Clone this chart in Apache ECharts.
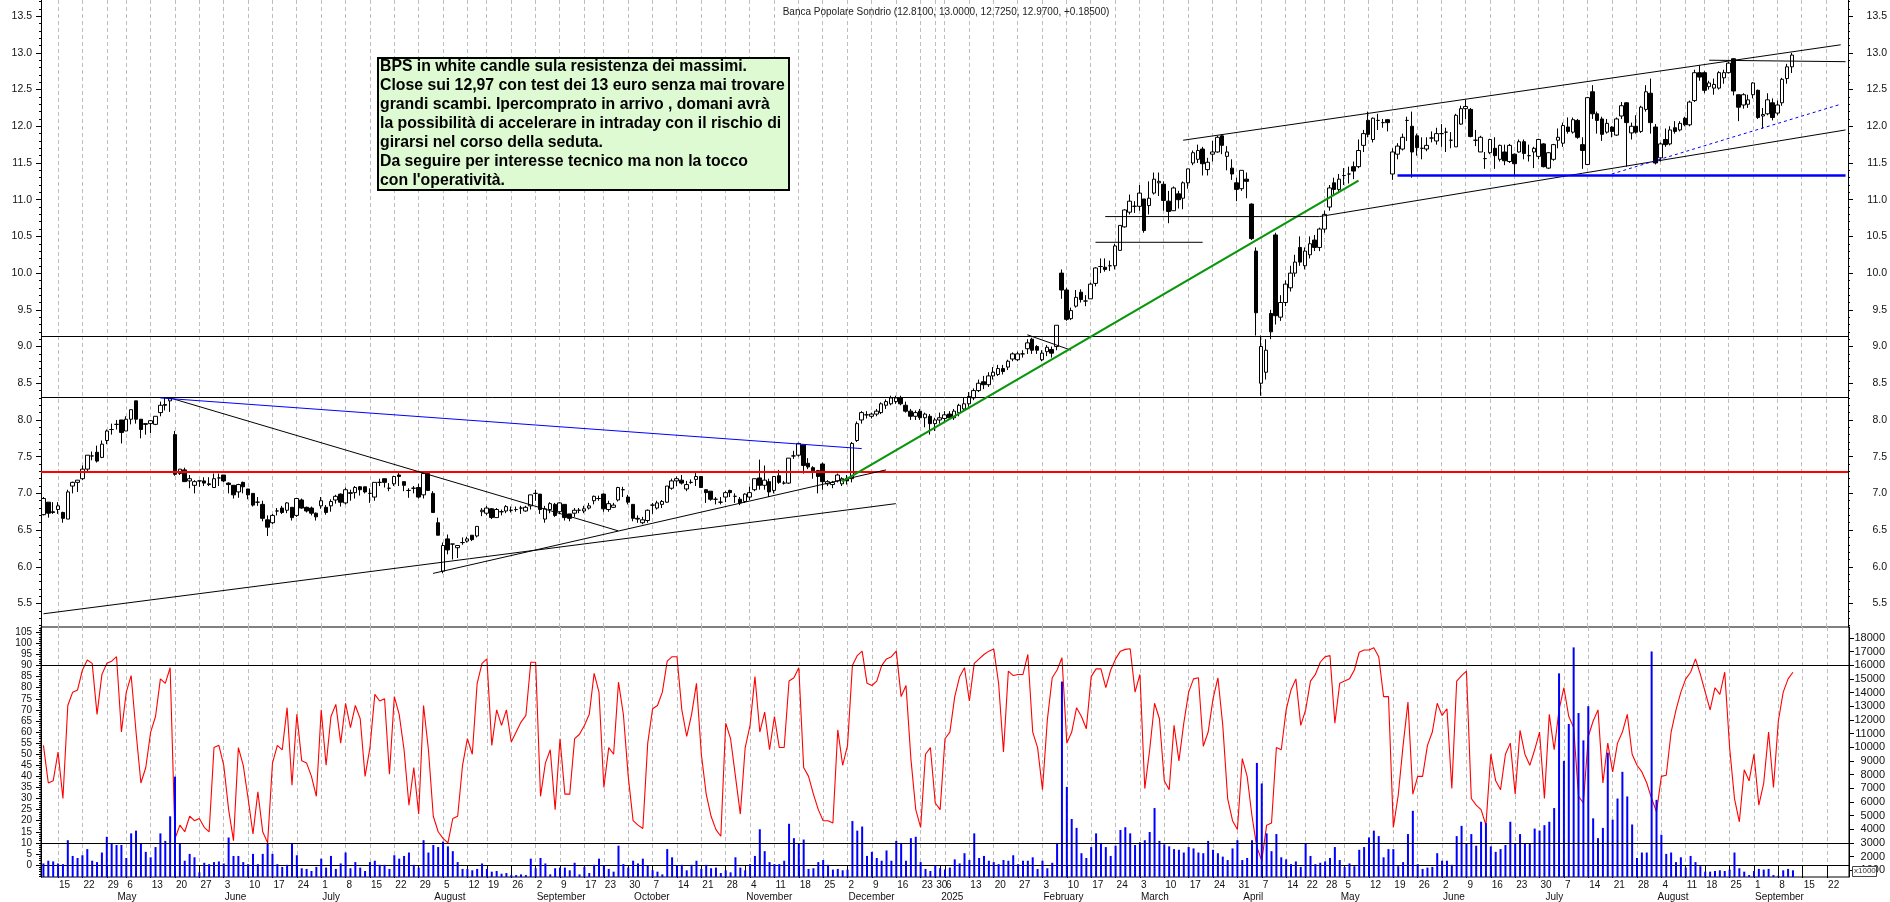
<!DOCTYPE html>
<html>
<head>
<meta charset="utf-8">
<title>Banca Popolare Sondrio</title>
<script src="https://cdn.jsdelivr.net/npm/echarts@6/dist/echarts.min.js"></script>
<style>
  html, body { margin: 0; padding: 0; background: #fff; }
  #chart { width: 1890px; height: 902px; }
</style>
</head>
<body>
<div id="chart"></div>
<script>
// Open, close, low, high of every session
var ohlc = [
  [6.71,6.93,6.70,6.95],[6.88,6.73,6.67,6.88],[6.75,6.74,6.72,6.88],[6.78,6.83,6.72,6.88],[6.74,6.66,6.60,6.75],
  [6.65,7.02,6.65,7.05],[7.10,7.15,7.00,7.16],[7.15,7.18,7.02,7.18],[7.20,7.33,7.18,7.38],[7.33,7.52,7.30,7.52],
  [7.51,7.51,7.45,7.57],[7.56,7.44,7.42,7.65],[7.49,7.67,7.48,7.72],[7.72,7.85,7.67,7.87],[7.87,7.87,7.80,7.95],
  [7.94,7.94,7.87,8.00],[8.00,7.83,7.68,8.00],[7.85,8.01,7.85,8.05],[8.01,8.14,7.94,8.14],[8.26,8.01,7.95,8.26],
  [8.01,7.87,7.75,8.01],[7.95,7.94,7.80,7.95],[7.95,7.99,7.82,8.00],[7.94,8.05,7.93,8.05],[8.10,8.20,8.05,8.25],
  [8.21,8.20,8.13,8.30],[8.26,8.29,8.11,8.31],[7.80,7.26,7.24,7.85],[7.27,7.33,7.25,7.33],[7.32,7.16,7.16,7.35],
  [7.17,7.20,7.07,7.25],[7.11,7.16,7.00,7.18],[7.17,7.17,7.09,7.17],[7.17,7.14,7.10,7.22],[7.13,7.12,7.10,7.22],
  [7.08,7.20,7.08,7.27],[7.21,7.21,7.10,7.27],[7.25,7.17,7.15,7.25],[7.14,7.12,7.00,7.15],[7.11,6.98,6.93,7.11],
  [7.02,7.12,6.94,7.13],[7.15,7.09,7.00,7.16],[7.06,6.98,6.92,7.06],[7.00,6.84,6.82,7.00],[6.88,6.88,6.83,6.95],
  [6.85,6.66,6.62,6.90],[6.64,6.54,6.42,6.70],[6.60,6.70,6.58,6.72],[6.76,6.76,6.70,6.80],[6.80,6.74,6.72,6.83],
  [6.77,6.87,6.73,6.88],[6.81,6.67,6.63,6.81],[6.70,6.93,6.68,6.93],[6.91,6.80,6.79,6.93],[6.81,6.76,6.74,6.82],
  [6.80,6.73,6.70,6.82],[6.73,6.68,6.63,6.74],[6.83,6.90,6.79,6.95],[6.81,6.74,6.71,6.84],[6.83,6.89,6.75,6.92],
  [6.91,6.96,6.86,6.98],[6.99,6.88,6.82,7.00],[6.87,7.05,6.85,7.08],[7.00,7.01,6.90,7.05],[7.01,7.08,6.93,7.10],
  [7.09,7.05,6.97,7.10],[7.09,7.02,7.00,7.09],[7.00,7.00,6.87,7.07],[6.95,7.15,6.90,7.15],[7.15,7.15,7.10,7.20],
  [7.20,7.15,7.08,7.20],[7.07,7.07,7.03,7.14],[7.13,7.23,7.10,7.24],[7.25,7.23,7.10,7.28],[7.16,7.11,7.03,7.16],
  [7.04,7.04,6.94,7.07],[7.07,7.07,7.00,7.10],[7.08,6.95,6.93,7.13],[6.98,7.27,6.93,7.28],[7.27,7.04,7.04,7.30],
  [7.00,6.74,6.74,7.03],[6.60,6.43,6.43,6.67],[5.94,6.29,5.91,6.33],[6.38,6.23,6.17,6.44],[6.31,6.31,6.10,6.31],
  [6.26,6.29,6.12,6.29],[6.33,6.33,6.30,6.40],[6.35,6.38,6.33,6.41],[6.43,6.37,6.35,6.43],[6.42,6.55,6.40,6.55],
  [6.75,6.77,6.69,6.80],[6.73,6.80,6.70,6.83],[6.79,6.67,6.65,6.80],[6.67,6.78,6.67,6.80],[6.75,6.75,6.70,6.78],
  [6.76,6.82,6.73,6.84],[6.77,6.77,6.74,6.82],[6.78,6.78,6.75,6.82],[6.80,6.80,6.72,6.83],[6.76,6.81,6.75,6.83],
  [6.83,6.98,6.78,6.98],[7.00,7.00,6.90,7.05],[6.99,6.78,6.72,6.99],[6.65,6.79,6.60,6.83],[6.78,6.86,6.73,6.88],
  [6.85,6.70,6.68,6.87],[6.75,6.87,6.72,6.88],[6.85,6.67,6.63,6.85],[6.72,6.66,6.62,6.72],[6.73,6.77,6.68,6.80],
  [6.77,6.77,6.73,6.80],[6.76,6.79,6.73,6.83],[6.80,6.83,6.78,6.87],[6.90,6.96,6.85,6.97],[6.93,6.93,6.90,6.97],
  [6.99,6.79,6.75,7.00],[6.78,6.86,6.75,6.90],[6.81,6.84,6.80,6.87],[6.91,7.08,6.89,7.09],[7.05,7.05,6.95,7.09],
  [6.95,6.88,6.85,6.98],[6.85,6.66,6.62,6.85],[6.66,6.65,6.60,6.70],[6.60,6.64,6.58,6.68],[6.63,6.77,6.60,6.78],
  [6.84,6.84,6.72,6.87],[6.80,6.87,6.78,6.90],[6.85,6.89,6.80,6.91],[6.88,7.10,6.87,7.10],[7.07,7.17,7.05,7.20],
  [7.17,7.20,7.10,7.23],[7.18,7.14,7.12,7.25],[7.06,7.12,7.03,7.17],[7.15,7.15,7.13,7.19],[7.19,7.23,7.10,7.29],
  [7.23,7.08,7.08,7.23],[7.05,7.01,6.87,7.05],[7.03,6.92,6.90,7.03],[6.92,6.92,6.85,6.95],[6.88,6.88,6.85,6.95],
  [6.95,7.01,6.88,7.03],[7.04,7.01,6.95,7.05],[6.96,6.96,6.87,7.00],[6.92,6.87,6.84,6.95],[6.89,6.99,6.87,7.00],
  [6.95,7.01,6.91,7.09],[7.05,7.20,7.03,7.20],[7.21,7.11,7.05,7.46],[7.11,7.18,7.05,7.38],[7.16,7.02,6.95,7.20],
  [7.04,7.23,7.00,7.23],[7.24,7.15,7.13,7.32],[7.14,7.14,7.12,7.17],[7.14,7.48,7.13,7.48],[7.51,7.51,7.47,7.58],
  [7.52,7.68,7.50,7.69],[7.66,7.38,7.27,7.66],[7.41,7.36,7.33,7.48],[7.35,7.30,7.20,7.37],[7.31,7.23,7.00,7.32],
  [7.40,7.16,7.05,7.42],[7.13,7.16,7.10,7.18],[7.12,7.15,7.07,7.17],[7.17,7.25,7.15,7.27],[7.13,7.20,7.10,7.22],
  [7.20,7.17,7.12,7.25],[7.20,7.68,7.15,7.70],[7.72,7.95,7.70,7.98],[8.00,8.10,7.95,8.12],[8.07,8.07,8.02,8.12],
  [8.05,8.08,8.02,8.10],[8.08,8.12,8.05,8.15],[8.10,8.22,8.08,8.24],[8.20,8.25,8.15,8.28],[8.22,8.30,8.20,8.33],
  [8.25,8.30,8.22,8.33],[8.30,8.22,8.20,8.33],[8.20,8.12,8.10,8.25],[8.12,8.05,8.00,8.15],[8.05,8.10,8.00,8.13],
  [8.12,8.03,8.00,8.15],[8.03,8.08,7.90,8.10],[8.05,7.95,7.80,8.08],[7.95,8.00,7.85,8.03],[8.00,8.03,7.95,8.10],
  [8.02,8.07,7.98,8.12],[8.08,8.03,8.00,8.12],[8.03,8.12,8.00,8.15],[8.10,8.20,8.05,8.22],[8.15,8.22,8.12,8.30],
  [8.22,8.32,8.18,8.38],[8.30,8.40,8.27,8.43],[8.40,8.50,8.38,8.55],[8.52,8.48,8.42,8.60],[8.48,8.60,8.45,8.65],
  [8.60,8.65,8.55,8.72],[8.62,8.70,8.60,8.75],[8.70,8.66,8.62,8.75],[8.72,8.80,8.68,8.82],[8.83,8.90,8.80,8.92],
  [8.82,8.90,8.80,8.93],[8.90,8.90,8.85,8.95],[8.97,9.05,8.90,9.10],[9.10,8.95,8.90,9.12],[9.00,8.95,8.90,9.02],
  [8.82,8.91,8.80,8.95],[8.93,8.99,8.87,9.02],[8.96,8.91,8.85,9.00],[9.00,9.29,8.95,9.29],[10.00,9.77,9.65,10.05],
  [9.77,9.37,9.35,9.80],[9.38,9.49,9.36,9.53],[9.55,9.67,9.53,9.77],[9.74,9.64,9.60,9.78],[9.62,9.62,9.55,9.70],
  [9.65,9.85,9.65,9.87],[9.86,10.07,9.82,10.08],[10.09,10.09,10.00,10.20],[10.08,10.05,10.02,10.20],[10.10,10.10,10.03,10.17],
  [10.10,10.37,10.05,10.40],[10.31,10.65,10.31,10.65],[10.63,10.86,10.62,10.87],[10.83,10.98,10.80,11.07],[10.91,10.91,10.82,10.98],
  [10.91,11.09,10.85,11.20],[11.01,10.58,10.55,11.01],[10.92,11.02,10.80,11.25],[11.09,11.28,11.07,11.37],[11.23,11.25,11.05,11.37],
  [11.21,10.99,10.85,11.25],[10.98,10.84,10.68,11.12],[10.85,11.16,10.85,11.18],[11.08,11.00,10.88,11.12],[11.02,11.23,10.87,11.25],
  [11.23,11.42,11.15,11.42],[11.50,11.64,11.47,11.67],[11.55,11.67,11.50,11.75],[11.69,11.49,11.33,11.72],[11.41,11.51,11.33,11.57],
  [11.62,11.65,11.52,11.80],[11.65,11.85,11.64,11.87],[11.87,11.74,11.62,11.89],[11.59,11.65,11.40,11.73],[11.43,11.35,11.27,11.55],
  [11.23,11.14,10.98,11.30],[11.15,11.40,11.12,11.40],[11.28,11.25,11.02,11.37],[10.94,10.47,10.45,10.95],[10.30,9.46,9.15,10.35],
  [8.50,9.00,8.33,9.15],[8.65,8.95,8.55,9.10],[9.45,9.20,9.10,9.50],[10.52,9.42,9.30,10.55],[9.40,9.60,9.35,9.70],
  [9.60,9.85,9.55,9.90],[9.80,10.00,9.75,10.10],[10.00,10.15,9.95,10.25],[10.35,10.15,10.10,10.50],[10.10,10.30,10.05,10.35],
  [10.25,10.40,10.20,10.50],[10.45,10.35,10.30,10.52],[10.35,10.60,10.30,10.62],[10.60,10.80,10.55,10.85],[10.90,11.16,10.85,11.20],
  [11.23,11.14,11.05,11.30],[11.14,11.28,11.10,11.35],[11.33,11.33,11.20,11.43],[11.35,11.35,11.22,11.45],[11.45,11.39,11.28,11.52],
  [11.45,11.67,11.43,11.82],[11.74,11.90,11.65,11.95],[12.08,11.89,11.85,12.20],[11.82,12.11,11.78,12.12],[12.08,12.08,11.95,12.17],
  [12.05,12.05,11.98,12.10],[12.09,12.05,11.93,12.10],[11.35,11.65,11.27,11.70],[11.62,11.73,11.55,11.77],[11.69,11.85,11.67,11.90],
  [12.08,12.08,11.80,12.13],[12.00,11.65,11.30,12.20],[11.87,11.71,11.60,11.90],[11.70,11.70,11.55,11.85],[11.69,11.74,11.66,11.85],
  [11.84,11.84,11.78,11.93],[11.80,11.90,11.75,11.98],[11.90,11.90,11.72,12.03],[11.92,11.92,11.65,11.98],[11.81,11.81,11.70,11.92],
  [11.72,12.15,11.72,12.17],[12.03,12.24,12.02,12.28],[12.24,12.27,12.10,12.36],[12.23,11.86,11.85,12.25],[11.81,11.81,11.73,11.95],
  [11.65,11.85,11.65,11.87],[11.56,11.56,11.42,11.65],[11.64,11.82,11.62,11.83],[11.70,11.60,11.42,11.85],[11.55,11.74,11.52,11.75],
  [11.65,11.53,11.47,11.75],[11.52,11.74,11.50,11.76],[11.62,11.49,11.32,11.63],[11.65,11.79,11.64,11.82],[11.79,11.63,11.55,11.82],
  [11.60,11.60,11.52,11.75],[11.65,11.70,11.43,11.72],[11.59,11.82,11.55,11.83],[11.76,11.45,11.44,11.77],[11.43,11.64,11.42,11.65],
  [11.55,11.75,11.53,11.76],[11.81,11.85,11.70,11.97],[11.77,12.01,11.72,12.05],[11.99,11.93,11.90,12.12],[11.92,12.09,11.90,12.12],
  [12.08,11.85,11.83,12.10],[11.75,11.67,11.42,11.85],[11.48,12.39,11.47,12.40],[12.47,12.17,12.10,12.56],[12.17,12.08,11.90,12.20],
  [12.10,11.89,11.80,12.13],[11.92,12.04,11.90,12.10],[11.99,11.93,11.85,12.00],[11.88,12.10,11.87,12.12],[12.14,12.28,12.10,12.33],
  [12.32,12.05,11.45,12.33],[11.91,12.00,11.82,12.05],[12.00,11.92,11.90,12.15],[11.93,12.26,11.91,12.28],[12.23,12.47,12.20,12.56],
  [12.45,12.05,11.90,12.65],[11.99,11.50,11.48,12.03],[11.57,11.76,11.52,11.78],[11.82,11.75,11.72,11.97],[11.76,11.95,11.74,12.00],
  [11.98,11.93,11.90,12.07],[11.95,12.04,11.93,12.07],[12.11,12.02,12.00,12.13],[12.02,12.33,12.00,12.35],[12.35,12.73,12.33,12.77],
  [12.73,12.67,12.62,12.83],[12.73,12.49,12.45,12.75],[12.54,12.59,12.50,12.62],[12.52,12.57,12.43,12.65],[12.52,12.73,12.50,12.75],
  [12.66,12.73,12.58,12.77],[12.73,12.86,12.72,12.88],[12.92,12.48,12.42,12.93],[12.43,12.26,12.07,12.43],[12.29,12.43,12.24,12.45],
  [12.30,12.36,12.25,12.43],[12.43,12.59,12.38,12.60],[12.49,12.12,12.10,12.50],[12.14,12.16,11.97,12.25],[12.17,12.36,12.15,12.45],
  [12.32,12.12,12.08,12.38],[12.18,12.29,12.15,12.35],[12.32,12.64,12.28,12.66],[12.65,12.81,12.58,12.85],[12.81,12.97,12.725,13.00]
];

var oscillator = [
  54,37,38,51,30,72,78,79,88,92.5, 91,68,86,91,92,94,60,78,85.5,60,
  37,44,60,67,84,82,89,12,18,15, 22,20,21,17,15,53,54,45,25,11,
  53,45,30,14,33,15,10,46,54,52, 71,36,68,47,46,40,31,70,45,67,
  72.5,55,73,62,72,66,40,53,77,74, 75,41,76,68,52,27,44,23,72,52,
  22,15,12,10,21,22,45,57,50,82, 91,93,54,70,63,70,55.5,60,64.5,67.5,
  91.5,91.5,31,46,52,25,57,32,32,57, 59,63,68,86.5,78,35,53,50,82.5,68,
  40,20,18,16.5,55,70.5,72,78,92,94, 94,70,58,68,82,50,32,22,16,13,
  64,57,40,23,53,63,85,60,69,52, 67,53,53,83,84.5,89,44,40,32,25,
  20,20,19,61,45,54,90,94.5,96.5,82, 81,83,90,93,94,96.5,76,81,48,25,
  17,50,53,28,25,57,60,76,85,89, 74,91,93,95,96.5,97.5,82,51,87.5,85.5,
  86,86,95,60,53,34,65.5,84.5,88,93.5, 55,60,71,67,61.5,85,88.5,88.5,80,88,
  93,96.5,97.3,97.6,78,86,34.5,52,73,66, 38,34,63,47,64,78,84,84.5,53.6,60,
  75,84.5,63,30,20,16,48,40,22,8, 2,18,19,53,52,70,79,84,63,70,
  83,86,91.5,94,94.5,64,82,83,84,88, 96,97,97,98,94,76,76,17,31.5,54,
  73.5,32,40,40,54,60,73,67.5,70.5,34.5, 83,85.5,87.5,30,27,25,18,50,38,34,
  50,55,32,60.8,50,45,52,60,30,68, 52,70,80,67,62,31,28,58,65,70,
  37,55,42,55,60,68,50,45,42,37, 30,24,40,40.5,60,70,78,84,87,93,
  86,78,70,80,77,87,53,30,19.5,43, 38,50,27,37,60,35,65,78,84,87
];

// Volume in thousands of shares
var volume = [
  1.5,1.7,1.65,1.5,1.45,3.2,2.05,1.9,2.1,2.55, 1.7,1.6,2.3,3.45,3.0,2.85,2.85,1.9,3.7,3.9,
  2.95,2.35,1.95,2.7,3.7,3.15,4.95,7.85,3.0,1.7, 2.2,1.95,.85,1.55,1.45,1.6,1.65,1.5,3.4,2.05,
  2.05,1.6,1.45,2.2,1.45,2.2,3.0,2.2,1.45,1.25, 1.4,3.0,2.1,1.15,1.1,.95,1.25,1.85,1.2,2.05,
  1.1,1.5,2.3,1.15,1.6,1.2,.95,1.6,1.7,1.4, 1.4,1.1,2.1,1.85,2.05,2.3,1.4,1.2,3.2,2.3,
  2.85,2.7,3.1,2.75,2.4,1.6,1.1,1.1,1.0,1.1, 1.5,1.1,.9,.95,.75,.8,.65,.65,.7,.65,
  1.85,1.15,1.9,1.5,.7,1.15,1.2,1.2,1.0,1.55, .7,1.25,.8,1.4,1.85,1.35,1.1,.9,2.8,1.45,
  1.2,1.7,1.5,1.85,1.35,1.0,.9,.7,2.55,1.95, 1.35,1.4,1.0,1.4,1.7,1.1,1.4,1.15,1.2,.8,
  1.0,.85,1.95,1.2,1.0,1.45,2.05,4.0,2.4,1.6, 1.45,1.45,1.7,4.4,3.35,2.95,3.25,1.1,1.15,1.6,
  1.75,1.4,1.05,1.1,1.0,1.05,4.6,3.9,4.2,2.05, 2.35,1.9,1.7,2.45,1.7,3.15,3.0,1.7,3.35,3.45,
  1.6,1.1,.95,1.35,1.15,1.05,1.2,1.8,1.5,2.25, 1.75,3.7,1.9,2.05,1.7,1.6,1.45,1.75,1.7,2.1,
  1.45,1.7,1.7,1.95,1.1,1.7,1.15,1.55,3.0,14.8, 7.1,4.75,4.1,2.25,1.9,2.7,3.7,3.0,2.7,2.05,
  2.8,3.95,4.15,3.7,2.85,3.05,3.2,3.8,5.55,3.15, 2.9,2.75,2.55,2.5,2.3,2.7,2.6,2.3,2.25,3.15,
  2.5,2.25,2.0,1.75,2.6,3.2,1.75,1.9,3.2,8.85, 7.35,3.7,2.4,3.65,1.95,1.8,1.45,1.65,1.25,3.0,
  2.05,1.45,1.55,1.65,1.9,2.7,1.75,1.25,1.5,1.3, 2.5,2.7,3.4,3.9,3.5,1.95,2.55,2.55,1.3,1.6,
  3.65,5.35,1.45,1.1,1.2,1.25,2.25,1.7,1.7,1.4, 3.5,4.25,2.95,3.65,2.8,4.55,4.45,2.75,2.35,2.55,
  2.85,4.55,3.0,3.65,2.95,2.95,4.05,3.9,4.3,4.55, 5.55,15.4,9.0,11.7,17.3,12.5,10.5,13,4.8,3.35,
  4.1,9.6,4.7,6.25,8.2,6.4,4.35,1.9,2.3,2.3, 17,6.15,3.6,2.2,2.3,1.6,1.95,1.2,2.05,1.6,
  1.3,.9,.9,.95,1.0,.95,1.05,2.3,1.15,.9, .65,.95,1.1,1.05,1.1,.65,.6,1.0,1.1,1.0
];

var priceTicks = [5.5,6,6.5,7,7.5,8,8.5,9,9.5,10,10.5,11,11.5,12,12.5,13,13.5];
var oscTicks = [0,5,10,15,20,25,30,35,40,45,50,55,60,65,70,75,80,85,90,95,100,105];
var volumeTicks = [1,2,3,4,5,6,7,8,9,10,11,12,13,14,15,16,17,18];
var monthNames = ["", "February", "March", "April", "May", "June", "July", "August", "September", "October", "November", "December"];
var closedDays = ["2024-05-01","2024-08-15","2024-09-16","2024-12-25","2024-12-26","2024-12-31",
                  "2025-01-01","2025-01-02","2025-04-18","2025-04-21","2025-05-01","2025-08-15"];

// Horizontal levels span the whole pane
var priceLevels = [
  {value: 9.14, color: "#000", width: 1},
  {value: 8.31, color: "#000", width: 1},
  {value: 7.29, color: "#f00", width: 2}
];
var oscLevels = [90, 10];

// Drawn lines: bar index and price at both ends
var trendLines = [
  {from: [0, 5.36],    to: [175, 6.86],  color: "#000", width: 1},
  {from: [80, 5.91],   to: [173, 7.32],  color: "#000", width: 1},
  {from: [26, 8.30],   to: [118, 6.49],  color: "#000", width: 1},
  {from: [24, 8.30],   to: [168, 7.61],  color: "#00f", width: 1},
  {from: [202, 9.16],  to: [211, 8.95],  color: "#000", width: 1},
  {from: [164, 7.16],  to: [270, 11.26], color: "#0a960a", width: 2.2},
  {from: [218, 10.77], to: [262, 10.77], color: "#000", width: 1},
  {from: [216, 10.42], to: [238, 10.42], color: "#000", width: 1},
  {from: [234, 11.81], to: [369, 13.11], color: "#000", width: 1},
  {from: [262, 10.77], to: [370, 11.95], color: "#000", width: 1},
  {from: [322, 11.35], to: [369, 12.30], color: "#00f", width: 1, dash: [3, 3]},
  {from: [342, 12.90], to: [370, 12.88], color: "#000", width: 1},
  {from: [278, 11.33], to: [370, 11.33], color: "#00f", width: 2.4}
];

var noteLines = [
  "BPS in white candle sula resistenza dei massimi.",
  "Close sui 12,97 con test dei 13 euro senza mai trovare",
  "grandi scambi. Ipercomprato in arrivo , domani avrà",
  "la possibilità di accelerare in intraday con il rischio di",
  "girarsi nel corso della seduta.",
  "Da seguire per interesse tecnico ma non la tocco",
  "con l'operatività."
];
var heading = "Banca Popolare Sondrio (12.8100, 13.0000, 12.7250, 12.9700, +0.18500)";

var LABEL_FONT = "Liberation Sans";
var SLOTS = 371;

// Trading calendar, runs on past the last bar up to the end of the axis
function buildCalendar() {
    var days = [];
    var d = new Date(Date.UTC(2024, 3, 10));
    while (days.length < SLOTS) {
        var iso = d.toISOString().slice(0, 10);
        var wd = d.getUTCDay();
        if (wd !== 0 && wd !== 6 && closedDays.indexOf(iso) === -1) {
            days.push(iso);
        }
        d.setUTCDate(d.getUTCDate() + 1);
    }
    return days;
}

var categories = buildCalendar();

function weekday(iso) {
    return new Date(iso + "T00:00:00Z").getUTCDay();
}

function isWeekStart(index) {
    return index > 0 && weekday(categories[index]) < weekday(categories[index - 1]);
}

function isMonthStart(index) {
    return index > 0 && categories[index].slice(5, 7) !== categories[index - 1].slice(5, 7);
}

function monthLabel(iso) {
    var month = parseInt(iso.slice(5, 7), 10);
    return month === 1 ? iso.slice(0, 4) : monthNames[month - 1];
}

function stepTicks(from, to, step) {
    var out = [];
    for (var v = from; v <= to + 1e-6; v += step) {
        out.push(Math.round(v * 10) / 10);
    }
    return out;
}

var gridSplit = {
    show: true,
    alignWithLabel: true,
    interval: isWeekStart,
    lineStyle: {color: "#bdbdbd", type: [4, 3], width: 1}
};

// A value axis that only carries ticks (and optionally labels)
function scaleAxis(grid, side, min, max, ticks, tickLength, labels) {
    return {
        type: "value",
        gridIndex: grid,
        position: side,
        min: min,
        max: max,
        splitLine: {show: false},
        axisLine: {show: true, onZero: false, lineStyle: {color: "#000", width: 1}},
        axisTick: {show: true, length: tickLength, customValues: ticks, lineStyle: {color: "#000", width: 1}},
        axisLabel: labels || {show: false}
    };
}

function tickLabels(values, align, margin, size, fmt) {
    return {
        show: true,
        customValues: values,
        align: align,
        margin: margin,
        color: "#111",
        fontFamily: LABEL_FONT,
        fontSize: size,
        formatter: fmt
    };
}

function priceFmt(v) { return v.toFixed(1); }
function plainFmt(v) { return String(v); }
function volumeFmt(v) { return String(Math.round(v * 1000)); }

var PRICE_MIN = 5.18, PRICE_MAX = 13.72;
var OSC_MIN = -5.4, OSC_MAX = 107.4;
var VOL_MIN = 0.51, VOL_MAX = 18.79;

var series = [
    {
        type: "candlestick",
        name: "price",
        xAxisIndex: 0,
        yAxisIndex: 0,
        data: ohlc,
        barWidth: 4,
        silent: true,
        z: 3,
        itemStyle: {
            color: "#fff", color0: "#000",
            borderColor: "#000", borderColor0: "#000", borderColorDoji: "#000",
            borderWidth: 1
        }
    },
    {
        type: "line",
        name: "levels",
        xAxisIndex: 0,
        yAxisIndex: 0,
        data: [],
        silent: true,
        z: 4,
        markLine: {
            silent: true,
            symbol: "none",
            animation: false,
            label: {show: false},
            data: priceLevels.map(function (level) {
                return {yAxis: level.value, lineStyle: {color: level.color, width: level.width, type: "solid"}};
            })
        }
    },
    {
        type: "line",
        name: "oscillator",
        xAxisIndex: 1,
        yAxisIndex: 4,
        data: oscillator,
        showSymbol: false,
        silent: true,
        z: 3,
        lineStyle: {color: "#f00", width: 1.1},
        markLine: {
            silent: true,
            symbol: "none",
            animation: false,
            label: {show: false},
            data: oscLevels.map(function (level) {
                return {yAxis: level, lineStyle: {color: "#000", width: 1.2, type: "solid"}};
            })
        }
    },
    {
        type: "bar",
        name: "volume",
        xAxisIndex: 1,
        yAxisIndex: 6,
        data: volume,
        barWidth: 2,
        silent: true,
        z: 4,
        itemStyle: {color: "#00f"}
    }
];

trendLines.forEach(function (trend, i) {
    series.push({
        type: "line",
        name: "trend" + i,
        xAxisIndex: 0,
        yAxisIndex: 0,
        data: [trend.from, trend.to],
        showSymbol: false,
        silent: true,
        z: 5,
        lineStyle: {color: trend.color, width: trend.width, type: trend.dash || "solid"}
    });
});

var chart = echarts.init(document.getElementById("chart"), null, {renderer: "canvas"});

chart.setOption({
    animation: false,
    backgroundColor: "#fff",
    title: {
        text: heading,
        left: 941,
        top: 2,
        textAlign: "center",
        textStyle: {fontFamily: LABEL_FONT, fontSize: 10, fontWeight: "normal", color: "#222"}
    },
    grid: [
        {left: 41, top: 0, width: 1808, height: 627},
        {left: 41, top: 627, width: 1808, height: 250, show: true, borderColor: "#000", borderWidth: 1, backgroundColor: "transparent"}
    ],
    xAxis: [
        {
            type: "category",
            gridIndex: 0,
            data: categories,
            axisLine: {show: false},
            axisTick: {show: false},
            axisLabel: {show: false},
            splitLine: gridSplit
        },
        {
            type: "category",
            gridIndex: 1,
            data: categories,
            position: "bottom",
            axisLine: {show: true, lineStyle: {color: "#000", width: 1}},
            axisTick: {show: true, alignWithLabel: true, interval: isWeekStart, length: 13, lineStyle: {color: "#000"}},
            axisLabel: {
                show: true,
                interval: isWeekStart,
                margin: 3,
                align: "left",
                padding: [0, 0, 0, 1],
                color: "#111",
                fontFamily: LABEL_FONT,
                fontSize: 10,
                formatter: function (value) { return String(parseInt(value.slice(8), 10)); }
            },
            splitLine: gridSplit
        },
        {
            type: "category",
            gridIndex: 1,
            data: categories,
            position: "bottom",
            offset: 13,
            axisLine: {show: true, lineStyle: {color: "#000", width: 1}},
            axisTick: {show: true, alignWithLabel: true, interval: isMonthStart, length: 12, lineStyle: {color: "#000"}},
            axisLabel: {
                show: true,
                interval: isMonthStart,
                margin: 2,
                align: "left",
                padding: [0, 0, 0, 1],
                color: "#111",
                fontFamily: LABEL_FONT,
                fontSize: 10,
                formatter: monthLabel
            },
            splitLine: {show: false}
        }
    ],
    yAxis: [
        scaleAxis(0, "left", PRICE_MIN, PRICE_MAX, priceTicks, 5, tickLabels(priceTicks, "right", 9, 10.5, priceFmt)),
        scaleAxis(0, "left", PRICE_MIN, PRICE_MAX, stepTicks(5.2, 13.7, 0.1), 2),
        scaleAxis(0, "right", PRICE_MIN, PRICE_MAX, priceTicks, 5, tickLabels(priceTicks, "right", 39, 10.5, priceFmt)),
        scaleAxis(0, "right", PRICE_MIN, PRICE_MAX, stepTicks(5.2, 13.7, 0.1), 2),
        scaleAxis(1, "left", OSC_MIN, OSC_MAX, oscTicks, 5, tickLabels(oscTicks, "right", 9, 10, plainFmt)),
        scaleAxis(1, "left", OSC_MIN, OSC_MAX, stepTicks(-5, 107, 1), 2),
        scaleAxis(1, "right", VOL_MIN, VOL_MAX, volumeTicks, 5, tickLabels(volumeTicks, "right", 36, 11, volumeFmt))
    ],
    series: series,
    graphic: [
        {
            type: "rect",
            left: 377,
            top: 57,
            z: 20,
            shape: {width: 411, height: 132},
            style: {fill: "#ddfad2", stroke: "#000", lineWidth: 2}
        },
        {
            type: "text",
            left: 380,
            top: 57,
            z: 21,
            style: {
                text: noteLines.join("\n"),
                fill: "#000",
                font: "bold 15.8px 'Liberation Sans'",
                lineHeight: 19
            }
        },
        {
            type: "rect",
            left: 1852,
            top: 866,
            z: 20,
            shape: {width: 24, height: 10},
            style: {fill: "#fff", stroke: "#444", lineWidth: 1}
        },
        {
            type: "text",
            left: 1854,
            top: 867,
            z: 21,
            style: {text: "x1000", fill: "#333", font: "8px 'Liberation Sans'"}
        }
    ]
});
</script>
</body>
</html>
